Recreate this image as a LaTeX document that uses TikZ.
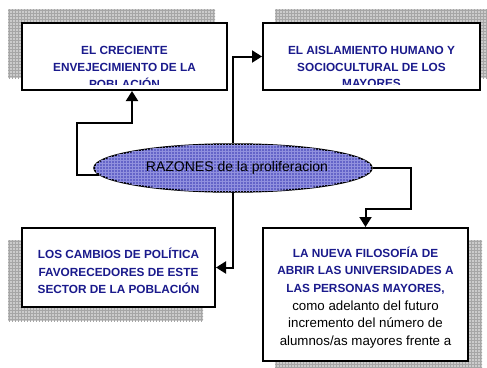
\documentclass[tikz,border=0pt]{standalone}
\usepackage{xcolor}
\usepackage{tikz}
\usepackage{fontspec}
\setmainfont{Liberation Sans}
\usetikzlibrary{shapes.geometric,arrows.meta,patterns,backgrounds}
\definecolor{titblue}{RGB}{26,26,140}
\definecolor{razblue}{RGB}{100,100,200}
\definecolor{razgrid}{RGB}{145,145,222}

\begin{document}
\begin{tikzpicture}[x=1pt, y=-1pt, >={Triangle[width=12pt,length=10pt]}]
  \tikzstyle{box}=[rectangle, draw, line width=2pt, fill=white, inner sep=0pt]
  \tikzstyle{tit}=[align=center, inner sep=0pt, text=titblue, font=\fontsize{11.8}{16.8}\selectfont\bfseries]
  \tikzstyle{raz}=[ellipse, draw, line width=1.5pt, fill=razblue, postaction={pattern=grid, pattern color=razgrid}, minimum width=278pt, minimum height=48pt, inner sep=0pt, font=\fontsize{14}{16}\selectfont]
  \tikzstyle{shade}=[fill=gray!40, postaction={pattern=grid, pattern color=gray!70}]
  \tikzstyle{link}=[line width=2pt]
  \useasboundingbox (0,0) rectangle (487,367);
  \node[raz] (razones) at (233,168) {\hspace{8pt}RAZONES de la proliferacion};
  \node[box, minimum width=205pt, minimum height=67pt] (crec) at (124.5,56.5) {};
  \node[box, minimum width=217pt, minimum height=67pt] (aisl) at (371.5,56.5) {};
  \node[box, minimum width=193pt, minimum height=79pt] (camb) at (118.5,267.5) {};
  \node[box, minimum width=205pt, minimum height=133pt] (nueva) at (365.5,294.5) {};
  \begin{scope}
    \clip (crec.north west) rectangle ([yshift=6.5pt]crec.south east);
    \node[tit] (crec-t) at (124.5,67.5) {EL CRECIENTE\\ENVEJECIMIENTO DE LA\\POBLACIÓN};
  \end{scope}
  \begin{scope}
    \clip (aisl.north west) rectangle ([yshift=6.5pt]aisl.south east);
    \node[tit] (aisl-t) at (371.5,67) {EL AISLAMIENTO HUMANO Y\\SOCIOCULTURAL DE LOS\\MAYORES};
  \end{scope}
  \node[tit, font=\fontsize{11.8}{17.5}\selectfont\bfseries] (camb-t) at (118.5,271) {LOS CAMBIOS DE POLÍTICA\\FAVORECEDORES DE ESTE\\SECTOR DE LA POBLACIÓN};
  \node[tit, font=\fontsize{11.8}{17.7}\selectfont\bfseries] (nueva-t) at (365.5,297.5) {LA NUEVA FILOSOFÍA DE\\ABRIR LAS UNIVERSIDADES A\\LAS PERSONAS MAYORES,\\{\fontsize{13.3}{17.7}\selectfont\mdseries\color{black}como adelanto del futuro}\\{\fontsize{13.3}{17.7}\selectfont\mdseries\color{black}incremento del número de}\\{\fontsize{13.3}{17.7}\selectfont\mdseries\color{black}alumnos/as mayores frente a}};
  \begin{scope}[on background layer]
    \foreach \n/\dx/\dy in {crec/-13/-13, aisl/13/-13, camb/-13/13, nueva/13/13}
      \fill[shade] ([shift={(\dx,\dy)}]\n.north west) rectangle ([shift={(\dx,\dy)}]\n.south east);
  \end{scope}
  \coordinate (k1) at (77,123);
  \coordinate (k4) at (411,209);
  \draw[link, ->] (razones.183) -| (k1) -| ([xshift=7.5pt]crec.south);
  \draw[link, ->] (razones.north) |- (aisl.west);
  \draw[link, ->] (razones.south) |- (camb.east);
  \draw[link, ->] (razones.east) -| (k4) -| (nueva.north);
\end{tikzpicture}
\end{document}
